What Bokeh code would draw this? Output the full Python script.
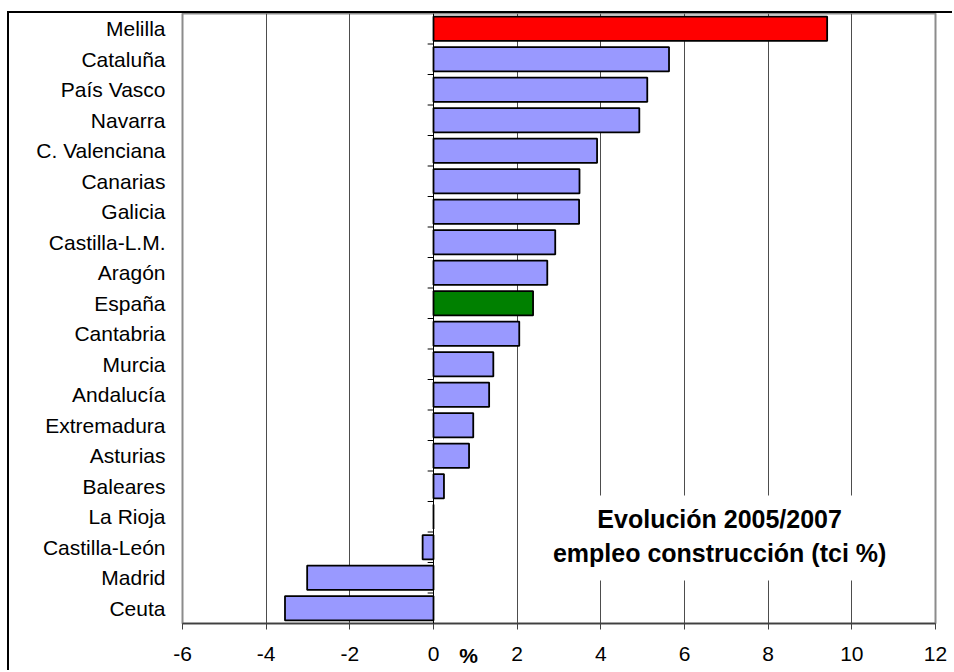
from bokeh.plotting import figure
from bokeh.models import Range1d, FixedTicker, Span, Label, ColumnDataSource
from bokeh.core.properties import value
from bokeh.embed import file_html
from bokeh.resources import INLINE

# ---- data (top to bottom) ----
regions = ["Melilla", "Cataluña", "País Vasco", "Navarra", "C. Valenciana",
           "Canarias", "Galicia", "Castilla-L.M.", "Aragón", "España",
           "Cantabria", "Murcia", "Andalucía", "Extremadura", "Asturias",
           "Baleares", "La Rioja", "Castilla-León", "Madrid", "Ceuta"]
values = [9.41, 5.63, 5.11, 4.92, 3.91,
          3.49, 3.48, 2.91, 2.72, 2.38,
          2.05, 1.43, 1.33, 0.95, 0.85,
          0.25, 0.0, -0.26, -3.02, -3.55]
highlight = {"Melilla": "#FF0000", "España": "#008000"}
base_color = "#9999FF"
x_ticks = [-6, -4, -2, 0, 2, 4, 6, 8, 10, 12]
x_tick_labels = ["-6", "-4", "-2", "0", "2", "4", "6", "8", "10", "12"]
title_lines = ["Evolución 2005/2007", "empleo construcción (tci %)"]
unit_label = "%"

FONT = "Liberation Sans"
n = len(regions)
ypos = [n - 1 - i for i in range(n)]
colors = [highlight.get(r, base_color) for r in regions]

src = ColumnDataSource(dict(y=ypos, right=values, color=colors, name=regions))

W, H = 945, 659
p = figure(width=W, height=H,
           x_range=Range1d(x_ticks[0], x_ticks[-1]),
           y_range=Range1d(-0.5, n - 0.5),
           output_backend="svg", toolbar_location=None,
           min_border_left=173, min_border_right=19,
           min_border_top=0, min_border_bottom=49)
# chart border (top and left) as in the original spreadsheet chart
p.styles = {"margin-left": "7px", "margin-top": "11px",
            "border-top": "2px solid #000000", "border-left": "2px solid #000000"}
p.background_fill_color = "white"
p.border_fill_color = "white"
p.outline_line_color = "#8c8c8c"
p.outline_line_width = 2

# grid
p.ygrid.visible = False
p.xgrid.ticker = FixedTicker(ticks=x_ticks)
p.xgrid.grid_line_color = "#4d4d4d"
p.xgrid.grid_line_width = 1

# x axis
xa = p.xaxis[0]
xa.ticker = FixedTicker(ticks=x_ticks)
xa.major_label_overrides = {t: s for t, s in zip(x_ticks, x_tick_labels)}
xa.major_label_text_font = FONT
xa.major_label_text_font_size = "21px"
xa.major_label_text_color = "black"
xa.axis_line_color = "#404040"
xa.axis_line_width = 1.5
xa.major_tick_line_color = "#404040"
xa.major_tick_out = 6
xa.major_tick_in = 0
xa.minor_tick_line_color = None
xa.major_label_standoff = 17

# y axis (categories)
ya = p.yaxis[0]
ya.ticker = FixedTicker(ticks=ypos)
ya.major_label_overrides = {y: r for y, r in zip(ypos, regions)}
ya.major_label_text_font = FONT
ya.major_label_text_font_size = "21px"
ya.major_label_text_color = "black"
ya.axis_line_color = None
ya.major_tick_line_color = None
ya.minor_tick_line_color = None
ya.major_label_standoff = 11

# white box behind the caption (covers gridlines)
p.quad(left=2.32, right=11.17, bottom=0.91, top=3.70,
       fill_color="white", line_color=None)

# bars
p.hbar(y="y", left=0, right="right", height=0.8, fill_color="color",
       line_color="black", line_width=1.8, source=src)

# zero axis with category separators
p.add_layout(Span(location=0, dimension="height", line_color="black", line_width=1))
bounds = [k - 0.5 for k in range(1, n)]
p.segment(x0=[-0.14] * len(bounds), x1=[0] * len(bounds), y0=bounds, y1=bounds,
          line_color="black", line_width=1)

# caption
p.text(x=[6.84, 6.84], y=[2.91, 1.80], text=title_lines,
       text_font=value(FONT), text_font_size="25px", text_font_style="bold",
       text_align="center", text_baseline="middle", text_color="black")

# unit label next to 0 (below the axis); placed in a side panel so it is not clipped
p.add_layout(Label(x=0.84, y=640, x_units="data", y_units="canvas",
                   text=unit_label, text_font=FONT,
                   text_font_size="21px", text_font_style="bold",
                   text_align="center", text_baseline="middle", text_color="black"),
             "left")

open("out.html", "w").write(file_html(p, INLINE))
